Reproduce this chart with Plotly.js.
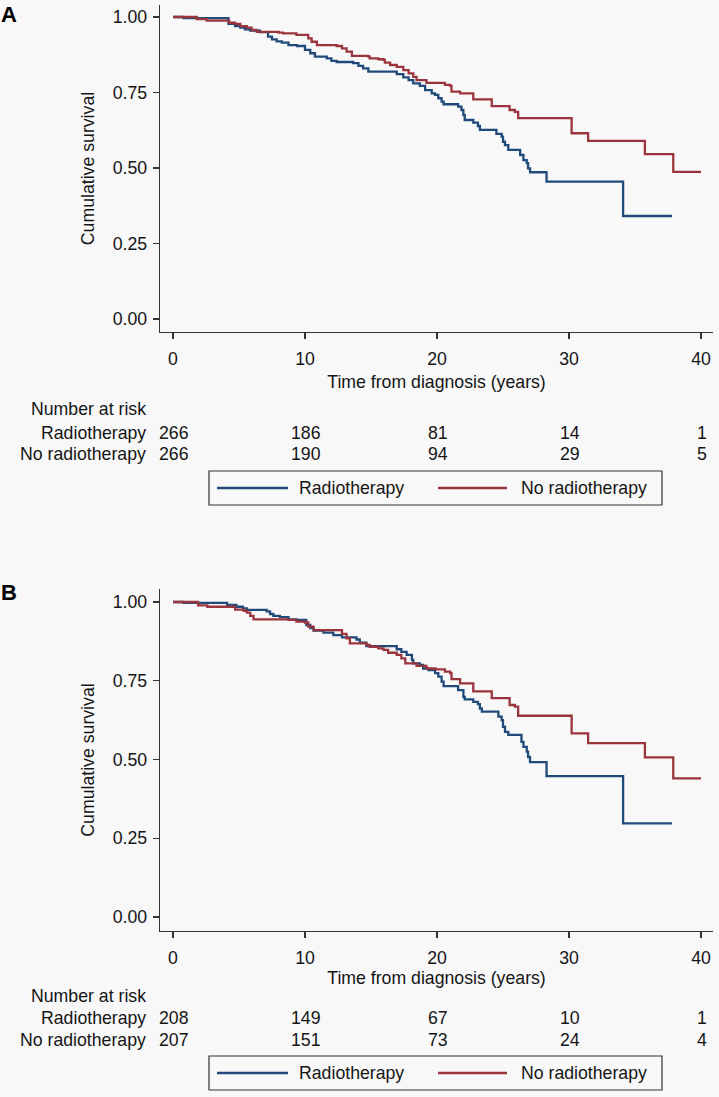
<!DOCTYPE html>
<html>
<head>
<meta charset="utf-8">
<script src="https://cdn.plot.ly/plotly-3.0.1.min.js"></script>
<style>
html,body{margin:0;padding:0;background:#f8f8f8;}
#chart{width:719px;height:1097px;}
</style>
</head>
<body>
<div id="chart"></div>
<script>
// ---------- DATA ----------
const seriesNames = ["Radiotherapy", "No radiotherapy"];

// Panel A — Radiotherapy
const tA_rt = [0, 0.8, 4.2, 4.7, 5.1, 5.45, 5.85, 6.6, 7.2, 7.5, 7.85, 8.25, 8.75, 9.4, 10.0, 10.4, 10.75, 11.65, 12.0, 12.4, 13.65, 14.05, 14.4, 14.8, 16.95, 17.45, 17.85, 18.2, 18.7, 19.1, 19.6, 19.85, 20.1, 20.35, 20.5, 21.6, 21.85, 22.0, 22.1, 22.75, 23.1, 23.25, 24.5, 24.9, 25.0, 25.15, 25.4, 26.3, 26.55, 26.8, 26.9, 27.05, 28.3, 34.1, 37.8];
const sA_rt = [1, 0.996, 0.977, 0.970, 0.965, 0.959, 0.955, 0.950, 0.935, 0.926, 0.919, 0.915, 0.907, 0.904, 0.891, 0.880, 0.869, 0.863, 0.855, 0.851, 0.847, 0.838, 0.830, 0.819, 0.811, 0.800, 0.791, 0.780, 0.772, 0.758, 0.747, 0.742, 0.731, 0.720, 0.711, 0.703, 0.692, 0.675, 0.659, 0.650, 0.639, 0.626, 0.613, 0.604, 0.587, 0.576, 0.560, 0.543, 0.526, 0.516, 0.499, 0.486, 0.455, 0.341, 0.341];

// Panel A — No radiotherapy
const tA_no = [0, 1.8, 2.55, 4.25, 4.7, 5.1, 5.6, 5.95, 6.35, 8.0, 8.35, 9.35, 10.25, 10.5, 10.9, 12.4, 12.8, 13.15, 13.55, 14.8, 14.9, 15.55, 15.95, 16.05, 16.45, 16.95, 17.45, 17.85, 18.2, 18.45, 19.2, 20.6, 21.0, 21.1, 21.75, 22.75, 24.15, 25.5, 25.9, 26.15, 30.2, 31.45, 35.75, 37.9, 40.0];
const sA_no = [1, 0.993, 0.988, 0.981, 0.977, 0.970, 0.965, 0.957, 0.951, 0.948, 0.946, 0.941, 0.929, 0.918, 0.907, 0.904, 0.896, 0.885, 0.871, 0.869, 0.863, 0.860, 0.858, 0.849, 0.841, 0.835, 0.824, 0.813, 0.802, 0.791, 0.782, 0.775, 0.772, 0.753, 0.747, 0.727, 0.705, 0.692, 0.686, 0.665, 0.615, 0.590, 0.546, 0.487, 0.487];

// Panel B — Radiotherapy
const tB_rt = [0, 0.8, 4.1, 4.8, 5.3, 5.6, 7.1, 7.35, 7.6, 8.1, 8.75, 9.35, 10.1, 10.4, 10.65, 11.4, 12.15, 12.8, 13.9, 14.15, 14.65, 16.95, 17.3, 17.7, 18.1, 18.2, 18.7, 18.95, 19.35, 19.85, 20.1, 20.35, 20.5, 21.6, 22.0, 22.1, 22.75, 23.1, 23.25, 23.4, 24.65, 24.9, 25.0, 25.15, 25.4, 26.4, 26.55, 26.8, 26.9, 27.05, 28.3, 34.1, 37.8];
const sB_rt = [1, 0.997, 0.991, 0.985, 0.980, 0.975, 0.970, 0.962, 0.956, 0.952, 0.945, 0.943, 0.927, 0.917, 0.909, 0.903, 0.895, 0.888, 0.881, 0.871, 0.860, 0.850, 0.842, 0.832, 0.816, 0.805, 0.800, 0.789, 0.784, 0.774, 0.763, 0.747, 0.733, 0.720, 0.699, 0.691, 0.683, 0.676, 0.662, 0.652, 0.636, 0.625, 0.604, 0.588, 0.578, 0.556, 0.540, 0.525, 0.508, 0.492, 0.447, 0.297, 0.297];

// Panel B — No radiotherapy
const tB_no = [0, 1.9, 2.6, 4.7, 5.35, 5.6, 5.85, 6.1, 8.75, 9.35, 10.0, 10.25, 10.65, 12.8, 13.15, 13.4, 14.65, 14.9, 15.55, 15.95, 16.3, 16.95, 17.3, 17.6, 18.45, 19.2, 19.9, 20.6, 21.0, 21.1, 21.75, 22.75, 24.15, 25.5, 25.9, 26.15, 30.2, 31.45, 35.75, 37.9, 40.0];
const sB_no = [1, 0.989, 0.985, 0.976, 0.972, 0.966, 0.956, 0.945, 0.943, 0.938, 0.935, 0.922, 0.911, 0.899, 0.885, 0.869, 0.864, 0.858, 0.853, 0.848, 0.839, 0.832, 0.821, 0.805, 0.797, 0.789, 0.786, 0.779, 0.774, 0.755, 0.742, 0.716, 0.695, 0.673, 0.668, 0.639, 0.583, 0.552, 0.507, 0.440, 0.440];

// Number at risk
const riskTimes = [0, 10, 20, 30, 40];
const riskA_rt = [266, 186, 81, 14, 1];
const riskA_no = [266, 190, 94, 29, 5];
const riskB_rt = [208, 149, 67, 10, 1];
const riskB_no = [207, 151, 73, 24, 4];

// Tick labels
const xTickVals = [0, 10, 20, 30, 40];
const xTickText = ["0", "10", "20", "30", "40"];
const yTickVals = [0, 0.25, 0.5, 0.75, 1];
const yTickText = ["0.00", "0.25", "0.50", "0.75", "1.00"];

// ---------- STYLE ----------
const FONT = '"Liberation Sans", Arial, Helvetica, sans-serif';
const BLUE = "#1f4a7a";
const RED = "#9a353d";
const AXC = "#333333";
const TXT = "#151515";
const FS = 17.7;

const W = 719, H = 1097, ML = 160, MR = 6, MT = 5, MB = 166;
const PW = W - ML - MR, PH = H - MT - MB;
const px = v => (v - ML) / PW;
const py = v => (H - MB - v) / PH;

function kmTrace(t, s, name, color, xa, ya) {
  return {
    x: t, y: s, name: name, type: "scatter", mode: "lines",
    line: {shape: "hv", color: color, width: 2.3},
    xaxis: xa, yaxis: ya, showlegend: false, hoverinfo: "x+y+name"
  };
}

const data = [
  kmTrace(tA_rt, sA_rt, seriesNames[0], BLUE, "x", "y"),
  kmTrace(tA_no, sA_no, seriesNames[1], RED, "x", "y"),
  kmTrace(tB_rt, sB_rt, seriesNames[0], BLUE, "x2", "y2"),
  kmTrace(tB_no, sB_no, seriesNames[1], RED, "x2", "y2")
];

function xAxis(domainAnchor, standoff) {
  return {
    anchor: domainAnchor, domain: [0, 1],
    range: [-0.985, 40.91], tickvals: xTickVals, ticktext: xTickText,
    showline: true, linecolor: AXC, linewidth: 1.3,
    ticks: "outside", ticklen: 6, tickwidth: 1.3, tickcolor: AXC,
    showgrid: false, zeroline: false, ticklabelstandoff: 4,
    tickfont: {family: FONT, size: FS, color: TXT},
    title: {text: "Time from diagnosis (years)", font: {family: FONT, size: FS, color: TXT}, standoff: standoff},
    automargin: false, fixedrange: true
  };
}
function yAxis(domain, range, anchor) {
  return {
    anchor: anchor, domain: domain, range: range,
    tickvals: yTickVals, ticktext: yTickText,
    showline: true, linecolor: AXC, linewidth: 1.3,
    ticks: "outside", ticklen: 6, tickwidth: 1.3, tickcolor: AXC,
    showgrid: false, zeroline: false, ticklabelstandoff: 2,
    tickfont: {family: FONT, size: FS, color: TXT},
    title: {text: "Cumulative survival", font: {family: FONT, size: FS, color: TXT}, standoff: 13},
    automargin: false, fixedrange: true
  };
}

const annotations = [];
const shapes = [];
function riskTable(xa, yNum, yRt, yNo, rt, no) {
  const base = {showarrow: false, font: {family: FONT, size: FS, color: TXT}, yanchor: "middle"};
  annotations.push(Object.assign({}, base, {text: "Number at risk", xref: "paper", x: px(148), xanchor: "right", yref: "paper", y: py(yNum)}));
  annotations.push(Object.assign({}, base, {text: seriesNames[0], xref: "paper", x: px(148), xanchor: "right", yref: "paper", y: py(yRt)}));
  annotations.push(Object.assign({}, base, {text: seriesNames[1], xref: "paper", x: px(148), xanchor: "right", yref: "paper", y: py(yNo)}));
  riskTimes.forEach((t, i) => {
    annotations.push(Object.assign({}, base, {text: String(rt[i]), xref: xa, x: t, xanchor: "center", xshift: 1, yref: "paper", y: py(yRt)}));
    annotations.push(Object.assign({}, base, {text: String(no[i]), xref: xa, x: t, xanchor: "center", xshift: 1, yref: "paper", y: py(yNo)}));
  });
}
function legendBox(top, bottom) {
  const mid = (top + bottom) / 2;
  shapes.push({type: "rect", xref: "paper", yref: "paper", x0: px(209), x1: px(662), y0: py(bottom), y1: py(top), line: {color: AXC, width: 1.2}, fillcolor: "rgba(0,0,0,0)"});
  shapes.push({type: "line", xref: "paper", yref: "paper", x0: px(217), x1: px(288), y0: py(mid), y1: py(mid), line: {color: BLUE, width: 2.3}});
  shapes.push({type: "line", xref: "paper", yref: "paper", x0: px(438), x1: px(507), y0: py(mid), y1: py(mid), line: {color: RED, width: 2.3}});
  const base = {showarrow: false, font: {family: FONT, size: FS, color: TXT}, yanchor: "middle", xanchor: "left", xref: "paper", yref: "paper"};
  annotations.push(Object.assign({}, base, {text: seriesNames[0], x: px(297), y: py(mid)}));
  annotations.push(Object.assign({}, base, {text: seriesNames[1], x: px(519), y: py(mid)}));
}

riskTable("x", 409, 433, 454, riskA_rt, riskA_no);
riskTable("x2", 996, 1018, 1040, riskB_rt, riskB_no);
legendBox(471, 505);
legendBox(1056, 1090);

annotations.push({text: "<b>A</b>", showarrow: false, xref: "paper", yref: "paper", x: px(9), y: py(15), xanchor: "center", yanchor: "middle", font: {family: FONT, size: 22, color: "#000"}});
annotations.push({text: "<b>B</b>", showarrow: false, xref: "paper", yref: "paper", x: px(9), y: py(592), xanchor: "center", yanchor: "middle", font: {family: FONT, size: 22, color: "#000"}});

const layout = {
  width: W, height: H,
  margin: {l: ML, r: MR, t: MT, b: MB, pad: 0},
  paper_bgcolor: "#f8f8f8", plot_bgcolor: "#f8f8f8",
  font: {family: FONT, size: FS, color: TXT},
  showlegend: false,
  xaxis: xAxis("y", 8),
  yaxis: yAxis([py(332), py(5)], [-0.043, 1.0397], "x"),
  xaxis2: xAxis("y2", 3),
  yaxis2: yAxis([py(931), py(589)], [-0.0444, 1.0413], "x2"),
  annotations: annotations,
  shapes: shapes
};

Plotly.newPlot("chart", data, layout, {displayModeBar: false, staticPlot: true});
</script>
</body>
</html>
